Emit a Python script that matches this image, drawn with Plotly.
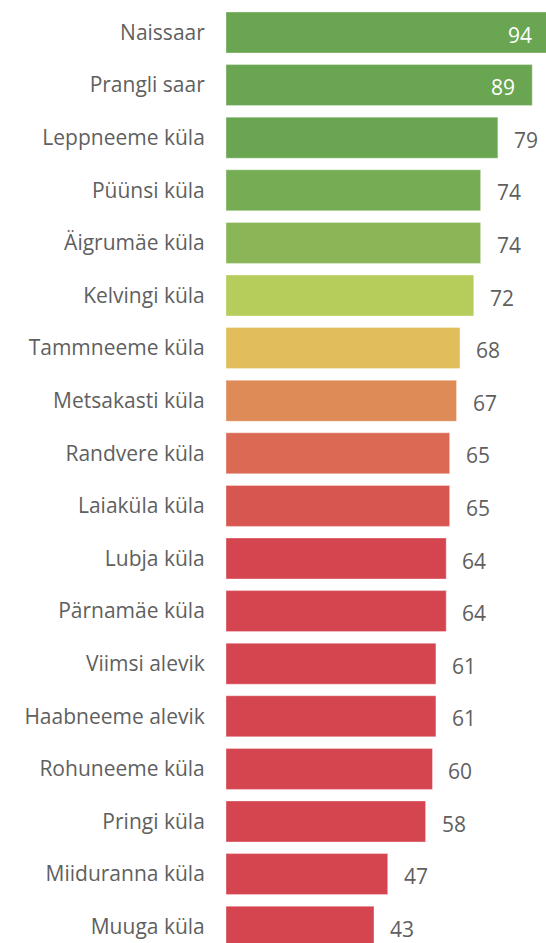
import plotly.graph_objects as go

categories = ["Naissaar", "Prangli saar", "Leppneeme küla", "Püünsi küla", "Äigrumäe küla",
              "Kelvingi küla", "Tammneeme küla", "Metsakasti küla", "Randvere küla", "Laiaküla küla",
              "Lubja küla", "Pärnamäe küla", "Viimsi alevik", "Haabneeme alevik", "Rohuneeme küla",
              "Pringi küla", "Miiduranna küla", "Muuga küla"]
values = [94, 89, 79, 74, 74, 72, 68, 67, 65, 65, 64, 64, 61, 61, 60, 58, 47, 43]
colors = ["#6aa551", "#6aa551", "#6aa551", "#76ad54", "#8bb658", "#b6cd5c", "#e2bd5b", "#de8b58",
          "#db6a54", "#d75650", "#d54550", "#d54550", "#d54550", "#d54550", "#d54550", "#d54550",
          "#d54550", "#d54550"]

FONT = "Open Sans, Noto Sans, sans-serif"
fig = go.Figure(go.Bar(
    x=values, y=categories, orientation="h",
    marker=dict(color=colors, line=dict(color="rgba(255,255,255,0.35)", width=1)),
    width=0.78, hoverinfo="skip",
))

annotations = []
for c, v in zip(categories, values):
    inside = v >= 85
    annotations.append(dict(
        x=v, y=c, xref="x", yref="y", text=str(v), showarrow=False,
        xanchor="right" if inside else "left", xshift=-15 if inside else 14, yshift=-2,
        font=dict(family=FONT, size=21, color="white" if inside else "#5f5f5f"),
    ))

fig.update_layout(
    width=556, height=943,
    margin=dict(l=226, r=0, t=0, b=0),
    paper_bgcolor="white", plot_bgcolor="white",
    showlegend=False,
    annotations=annotations,
    xaxis=dict(range=[0, 95.9], visible=False, fixedrange=True),
    yaxis=dict(
        type="category", categoryorder="array", categoryarray=categories,
        range=[17.31, -0.618], showgrid=False, zeroline=False, showline=False,
        ticks="outside", ticklen=16, tickcolor="rgba(0,0,0,0)",
        tickfont=dict(family=FONT, size=21, color="#5f5f5f"),
        fixedrange=True,
    ),
)
fig.write_html(
    "out.html",
    config={"displayModeBar": False, "staticPlot": True},
    post_script="document.body.style.margin='0';document.body.style.overflow='hidden';",
)
